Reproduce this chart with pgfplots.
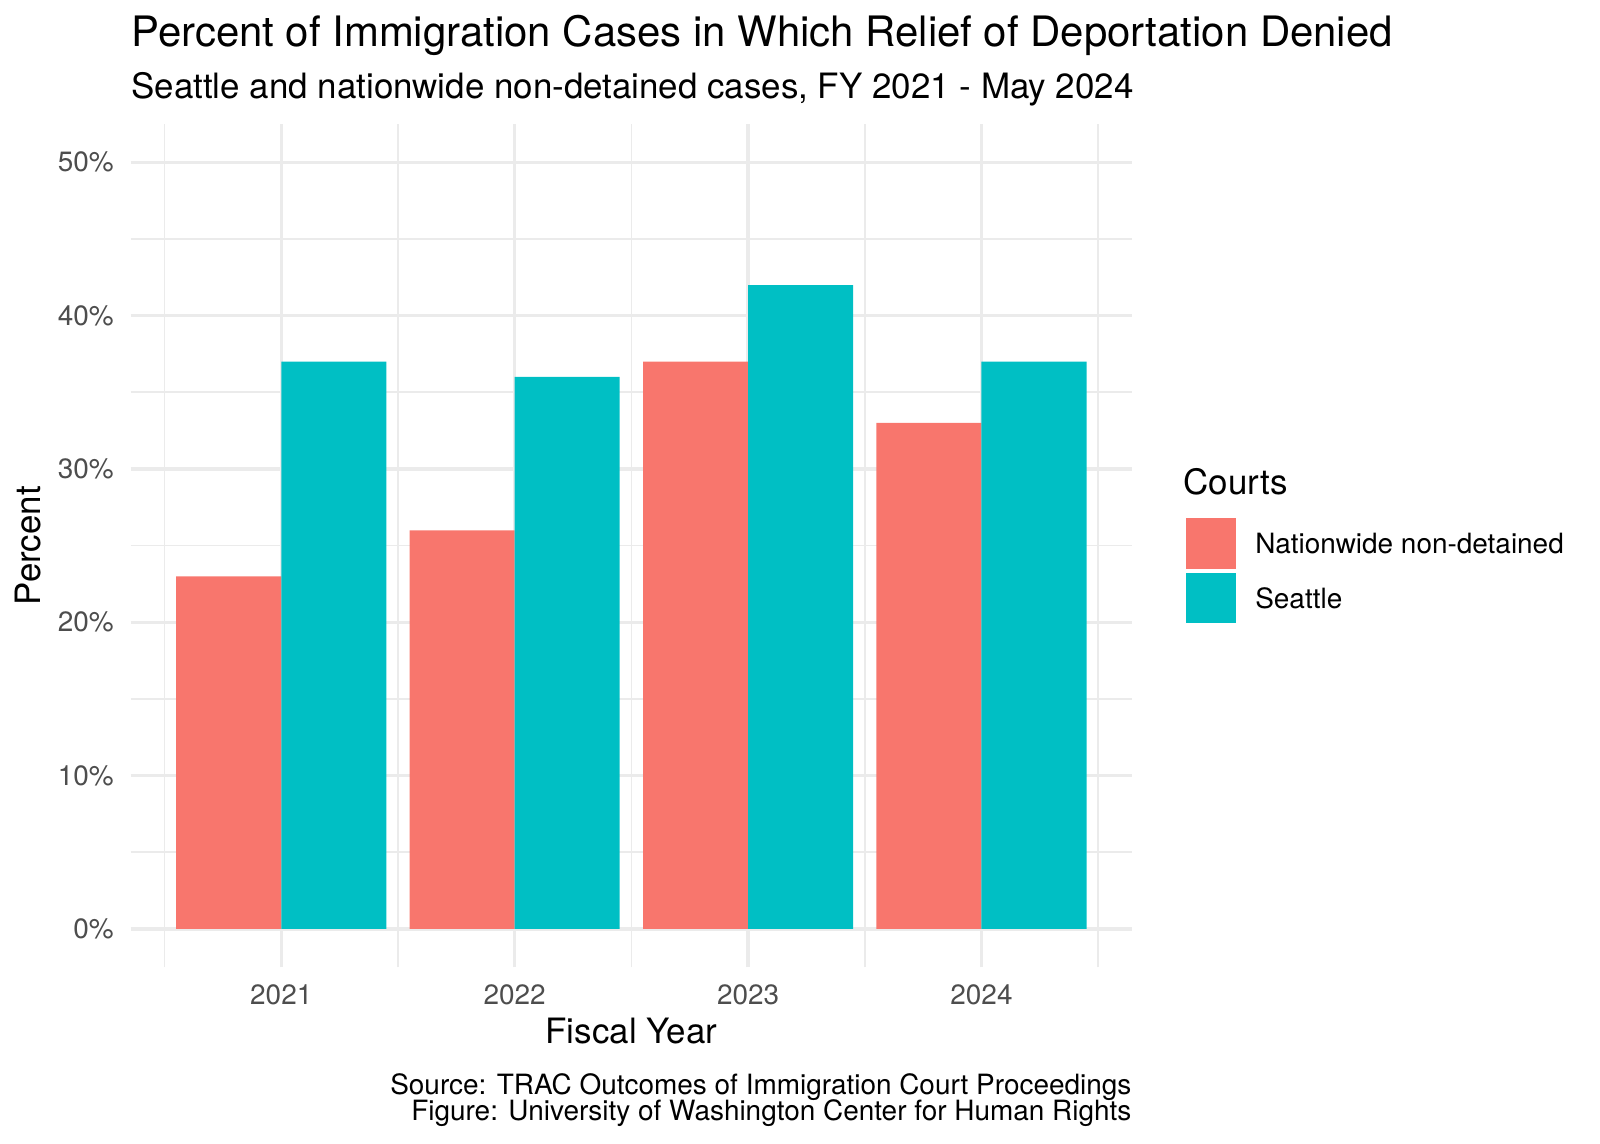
\documentclass[border=0pt]{standalone}
\usepackage{fontspec}
\setmainfont{TeX Gyre Heros}
\usepackage{pgfplots}
\pgfplotsset{compat=1.18}
\newlength\px \setlength\px{0.315bp}
\definecolor{cred}{HTML}{F8766D}
\definecolor{ccyan}{HTML}{00BFC4}
\definecolor{gridc}{HTML}{EBEBEB}
\definecolor{tickc}{HTML}{4D4D4D}
\pgfplotsset{
  sqkey/.style={legend image code/.code={\fill[#1,draw=none] (0bp,-7.07bp) rectangle (15.84bp,8.77bp);}},
}
\begin{document}
\begin{tikzpicture}
\path[use as bounding box] (0,0) rectangle (1600\px,1143\px);
\begin{axis}[
  at={(130.7\px,175.7\px)}, anchor=south west,
  scale only axis, width=1001.3\px, height=843.3\px,
  xmin=-0.645, xmax=3.645, ymin=-2.5, ymax=52.5,
  axis line style={draw=none},
  major tick length=0pt, minor tick length=0pt,
  xtick={0,1,2,3}, xticklabels={2021,2022,2023,2024},
  minor xtick={-0.5,0.5,1.5,2.5,3.5},
  ytick={0,10,20,30,40,50},
  minor ytick={5,15,25,35,45},
  grid=both,
  major grid style={draw=gridc, line width=1.07bp},
  minor grid style={draw=gridc, line width=0.53bp},
  yticklabel={\pgfmathprintnumber{\tick}\%},
  /pgf/number format/assume math mode=true,
  ticklabel style={font=\fontsize{8.8bp}{10bp}\selectfont, text=tickc, inner sep=0pt},
  yticklabel style={anchor=east, xshift=-16.4\px},
  xticklabel style={anchor=north, yshift=-16.7\px},
  legend style={draw=none, fill=none, at={(axis description cs:1.0539,0.5324)}, anchor=north west,
    inner sep=0pt, outer sep=0pt, row sep=1.3bp, column sep=6bp,
    font=\fontsize{8.8bp}{10bp}\selectfont, nodes={inner sep=0pt, outer sep=0pt}},
  legend cell align=left,
]
\addplot[ybar, bar width=0.45, bar shift=-0.225, fill=cred, draw=none, sqkey] coordinates {(0,23) (1,26) (2,37) (3,33)};
\addlegendentry{Nationwide non-detained}
\addplot[ybar, bar width=0.45, bar shift=0.225, fill=ccyan, draw=none, sqkey] coordinates {(0,37) (1,36) (2,42) (3,37)};
\addlegendentry{Seattle}
\end{axis}
\node[anchor=base west, inner sep=0pt, font=\fontsize{13.2bp}{15bp}\selectfont] at (130.7\px,1096.5\px) {Percent of Immigration Cases in Which Relief of Deportation Denied};
\node[anchor=base west, inner sep=0pt, font=\fontsize{11bp}{13bp}\selectfont] at (130.7\px,1044.5\px) {Seattle and nationwide non-detained cases, FY 2021 - May 2024};
\node[anchor=base, inner sep=0pt, rotate=90, font=\fontsize{11bp}{13bp}\selectfont] at (40\px,597.4\px) {Percent};
\node[anchor=base, inner sep=0pt, font=\fontsize{11bp}{13bp}\selectfont] at (631.4\px,99.7\px) {Fiscal Year};
\node[anchor=base west, inner sep=0pt, font=\fontsize{11bp}{13bp}\selectfont] at (1183\px,648\px) {Courts};
\node[anchor=base east, inner sep=0pt, font=\fontsize{8.8bp}{10bp}\selectfont] at (1132\px,48.7\px) {Source: TRAC Outcomes of Immigration Court Proceedings};
\node[anchor=base east, inner sep=0pt, font=\fontsize{8.8bp}{10bp}\selectfont] at (1132\px,23\px) {Figure: University of Washington Center for Human Rights};
\end{tikzpicture}
\end{document}
